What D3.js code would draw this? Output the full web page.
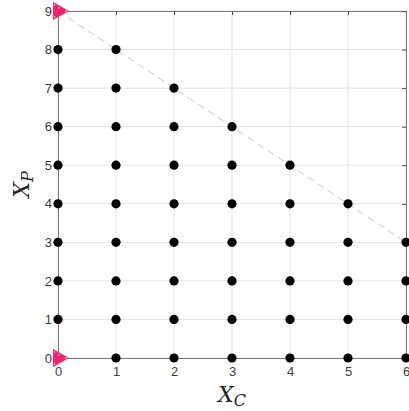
<!DOCTYPE html>
<html>
<head>
<meta charset="utf-8">
<script src="https://cdn.jsdelivr.net/npm/d3@7"></script>
<style>
  body { margin: 0; background: #fff; }
  svg { display: block; }
  .tick text { font-family: "Liberation Sans", Arial, sans-serif; font-size: 13px; fill: #404040; }
</style>
</head>
<body>
<svg id="chart" width="409" height="411"></svg>
<script>
// 축 눈금
var xTicks = [0, 1, 2, 3, 4, 5, 6];
var yTicks = [0, 1, 2, 3, 4, 5, 6, 7, 8, 9];

// 각 X_C 값에서 가능한 X_P 최대값
var xcValues = [0, 1, 2, 3, 4, 5, 6];
var xpMax = [8, 8, 7, 6, 5, 4, 3];

// 분홍 삼각형 위치
var triPoints = [{xc: 0, xp: 0}, {xc: 0, xp: 9}];

// 점선 경계
var boundary = [{xc: 0, xp: 9}, {xc: 6, xp: 3}];

var svg = d3.select("#chart"),
    margin = {top: 11, right: 3, bottom: 53, left: 58},
    width = +svg.attr("width") - margin.left - margin.right,
    height = +svg.attr("height") - margin.top - margin.bottom,
    g = svg.append("g").attr("transform", "translate(" + margin.left + "," + margin.top + ")");

var x = d3.scaleLinear().domain([0, 6]).range([0, width]);
var y = d3.scaleLinear().domain([0, 9]).range([height, 0]);

// 그리드
g.append("g").selectAll("line").data(xTicks).enter().append("line")
  .attr("x1", function(d) { return x(d); }).attr("x2", function(d) { return x(d); })
  .attr("y1", 0).attr("y2", height)
  .attr("stroke", "#e3e3e3");
g.append("g").selectAll("line").data(yTicks).enter().append("line")
  .attr("y1", function(d) { return y(d); }).attr("y2", function(d) { return y(d); })
  .attr("x1", 0).attr("x2", width)
  .attr("stroke", "#e3e3e3");

// 축
var xAxis = g.append("g")
  .attr("transform", "translate(0," + height + ")")
  .call(d3.axisBottom(x).tickValues(xTicks).tickSize(-4).tickPadding(7).tickFormat(d3.format("d")));
var yAxis = g.append("g")
  .call(d3.axisLeft(y).tickValues(yTicks).tickSize(-4).tickPadding(6).tickFormat(d3.format("d")));
g.append("g")
  .call(d3.axisTop(x).tickValues(xTicks).tickSize(-4).tickFormat(""));
g.append("g")
  .attr("transform", "translate(" + width + ",0)")
  .call(d3.axisRight(y).tickValues(yTicks).tickSize(-4).tickFormat(""));
g.selectAll(".domain").attr("stroke", "#7a7a7a");
g.selectAll(".tick line").attr("stroke", "#4d4d4d");
xAxis.selectAll(".tick text").attr("dy", "0.85em");

// 점선
var line = d3.line().x(function(d) { return x(d.xc); }).y(function(d) { return y(d.xp); });
g.append("path")
  .datum(boundary)
  .attr("fill", "none")
  .attr("stroke", "#d9d9d9")
  .attr("stroke-width", 1.3)
  .attr("stroke-dasharray", "7,5")
  .attr("d", line);

// 점 데이터
var dots = [];
for (var i = 0; i < xcValues.length; i++) {
  for (var p = 0; p <= xpMax[i]; p++) {
    if (xcValues[i] === 0 && p === 0) continue;
    dots.push({xc: xcValues[i], xp: p});
  }
}

g.selectAll(".dot").data(dots).enter().append("circle")
  .attr("class", "dot")
  .attr("cx", function(d) { return x(d.xc); })
  .attr("cy", function(d) { return y(d.xp); })
  .attr("r", 4.6)
  .attr("fill", "#000");

// 삼각형
var tri = g.selectAll(".tri").data(triPoints).enter().append("g")
  .attr("class", "tri")
  .attr("transform", function(d) { return "translate(" + x(d.xc) + "," + y(d.xp) + ")"; });
tri.append("path")
  .attr("d", "M-5,-9L11,0L-5,9Z")
  .attr("fill", "#f5206e");
tri.selectAll("circle").data([[-3.5, -6], [-3.5, 6], [8, 0], [1, -3]]).enter().append("circle")
  .attr("cx", function(d) { return d[0]; })
  .attr("cy", function(d) { return d[1]; })
  .attr("r", 0.7)
  .attr("fill", "#fff");

// 축 제목
svg.append("text")
  .attr("x", margin.left + width / 2)
  .attr("y", 402)
  .attr("text-anchor", "middle")
  .attr("font-family", "'DejaVu Serif', 'Liberation Serif', serif")
  .attr("font-style", "italic")
  .attr("font-size", 22)
  .attr("fill", "#262626")
  .html('X<tspan font-size="16" dy="4">C</tspan>');

svg.append("text")
  .attr("transform", "translate(29," + (margin.top + height / 2) + ") rotate(-90)")
  .attr("text-anchor", "middle")
  .attr("font-family", "'DejaVu Serif', 'Liberation Serif', serif")
  .attr("font-style", "italic")
  .attr("font-size", 22)
  .attr("fill", "#262626")
  .html('X<tspan font-size="16" dy="4">P</tspan>');
</script>
</body>
</html>
